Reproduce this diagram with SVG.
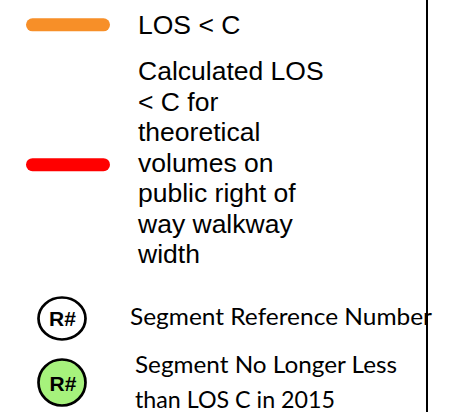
<svg xmlns="http://www.w3.org/2000/svg" width="469" height="412" viewBox="0 0 469 412">
<style>
.bar{stroke-width:13;stroke-linecap:round;fill:none}
.t{font-family:"Liberation Sans",Arial,sans-serif;font-size:26.5px;fill:#000}
.c{font-family:Lato,"Liberation Sans",sans-serif;font-size:24px;fill:#000}
.mk{stroke:#000;stroke-width:2.7}
.rn{font-family:"Liberation Sans",Arial,sans-serif;font-size:21px;font-weight:bold;fill:#000;text-anchor:middle}
</style>
<rect width="469" height="412" fill="#fff"/>
<g id="legend-orange">
<line class="bar" x1="32.5" y1="24.8" x2="103.5" y2="24.8" stroke="#F78F28"/>
<text class="t" x="138" y="34">LOS &lt; C</text>
</g>
<g id="legend-red">
<line class="bar" x1="32.5" y1="164.7" x2="103.5" y2="164.7" stroke="#FF0000"/>
<text class="t" x="138"><tspan x="138" y="80">Calculated LOS</tspan><tspan x="138" y="110.5">&lt; C for</tspan><tspan x="138" y="141">theoretical</tspan><tspan x="138" y="171.5">volumes on</tspan><tspan x="138" y="202">public right of</tspan><tspan x="138" y="232.5">way walkway</tspan><tspan x="138" y="263">width</tspan></text>
</g>
<g id="legend-ref">
<ellipse class="mk" cx="62" cy="318.5" rx="23.5" ry="21" fill="#fff"/>
<text class="rn" x="62.5" y="326">R#</text>
<text class="c" x="130" y="325" textLength="302" lengthAdjust="spacingAndGlyphs">Segment Reference Number</text>
</g>
<g id="legend-green">
<ellipse class="mk" cx="62" cy="382.5" rx="23.5" ry="23" fill="#A6F27C"/>
<text class="rn" x="63" y="390.5">R#</text>
<text class="c"><tspan x="135" y="373" textLength="262" lengthAdjust="spacingAndGlyphs">Segment No Longer Less</tspan><tspan x="135" y="408" textLength="200" lengthAdjust="spacingAndGlyphs">than LOS C in 2015</tspan></text>
</g>
<g id="connectors">
<line x1="427" y1="0" x2="427" y2="412" stroke="#000" stroke-width="2"/>
</g>
</svg>
